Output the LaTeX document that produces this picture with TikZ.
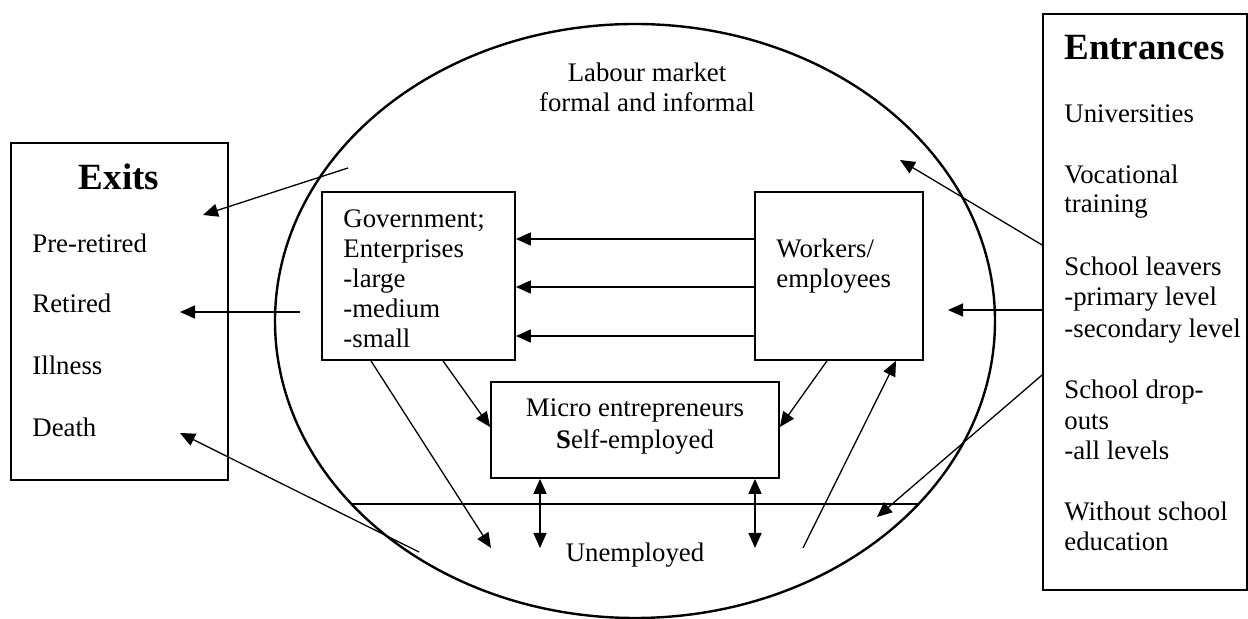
\documentclass[tikz,border=0pt]{standalone}
\usepackage{fontspec}
\setmainfont{Liberation Serif}
\usetikzlibrary{arrows.meta,shapes.geometric,positioning,calc}

\begin{document}
\begin{tikzpicture}
		[x=0.5pt, y=-0.5pt, font=\fontsize{13.4}{15}\selectfont,
		% STYLES
		% The box style is used for the groups of people
		box/.style={rectangle, draw, line width=0.9pt, inner sep=0pt},
		% the big ellipse of the labour market
		marketshape/.style={ellipse, draw, line width=1.2pt, inner sep=0pt, minimum width=360pt, minimum height=297pt},
		% one line of text
		txt/.style={inner sep=0pt, anchor=base west},
		% headings of the side boxes
		heading/.style={inner sep=0pt, anchor=base west, font=\fontsize{18.5}{21}\selectfont\bfseries},
		% flows between the groups
		flow/.style={-{Triangle[length=7.5pt,width=6.5pt]}, line width=0.85pt},
		thinflow/.style={-{Triangle[length=7.5pt,width=6.5pt]}, line width=0.65pt},
		twoway/.style={{Triangle[length=7.5pt,width=6.5pt]}-{Triangle[length=7.5pt,width=6.5pt]}, line width=0.85pt}]

		\useasboundingbox (0,0) rectangle (1248,619);

		% Draw the labour market
		\node [marketshape] (market) at (635,321) {};
		\node [txt, anchor=base] (lab1) at (647,82) {Labour market};
		\node [txt, anchor=base] (lab2) at (647,112) {formal and informal};

		% Draw boxes
		\node [box, minimum width=108.5pt, minimum height=168.5pt] (exits) at (119.5,311.5) {};
		\node [box, minimum width=102pt, minimum height=288pt] (entrances) at (1145,302) {};
		\node [box, minimum width=96.5pt, minimum height=84pt] (gov) at (418.5,276) {};
		\node [box, minimum width=84pt, minimum height=84pt] (workers) at (839,276) {};
		\node [box, minimum width=144pt, minimum height=48pt] (micro) at (635,430) {};

		%%%%%%%%%%%%%%%
		% Texts
		\node [heading, anchor=base] (exits-title) at (119,190) {Exits};
		\foreach \t/\y [count=\i] in {Pre-retired/253, Retired/313, Illness/375, Death/437}
			\node [txt] (exit\i) at (32,\y) {\t};

		\node [heading] (entr-title) at (1064,60) {Entrances};
		\foreach \t/\y [count=\i] in {Universities/123, Vocational/184, training/213,
				School leavers/276, -primary level/306, -secondary level/338,
				School drop-/399, outs/430, -all levels/460,
				Without school/521, education/551}
			\node [txt] (entr\i) at (1064,\y) {\t};

		\foreach \t/\y [count=\i] in {Government;/228, Enterprises/258, -large/288, -medium/318, -small/348}
			\node [txt] (gov\i) at (343,\y) {\t};
		\node [txt] (work1) at (776,258) {Workers/};
		\node [txt] (work2) at (776,288) {employees};
		\node [txt, anchor=base] (micro1) at (635,417) {Micro entrepreneurs};
		\node [txt, anchor=base] (micro2) at (635,449) {\textbf{S}elf-employed};
		\node [txt, anchor=base] (unemp) at (635,562) {Unemployed};

		%%%%%%%%%%%%%%%%
		% Free ends of the links
		\coordinate (exit-from) at (348,168);
		\coordinate (exit-to) at (203,215);
		\coordinate (retired-from) at (300,312);
		\coordinate (retired-to) at (180,312);
		\coordinate (death-from) at (419,552);
		\coordinate (death-to) at (180,433);
		\coordinate (entr-top) at (900,160);
		\coordinate (entr-mid) at (948,310);
		\coordinate (entr-low) at (877,517);
		\coordinate (gov-unemp) at (491,548);
		\coordinate (unemp-work) at (803,548);
		\coordinate (unemp-l) at (540,548);
		\coordinate (unemp-r) at (755,548);
		\coordinate (sep-l) at ($(market.center)+(-283.6,183)$);
		\coordinate (sep-r) at ($(market.center)+(283.6,183)$);

		% Draw the links
		\draw [thinflow] (exit-from) -- (exit-to);
		\draw [flow] (retired-from) -- (retired-to);
		\draw [thinflow] (death-from) -- (death-to);
		\foreach \y in {239,287,336}
			\draw [flow] (workers.west |- 0,\y) -- (gov.east |- 0,\y);
		\draw [thinflow] (gov.south -| 443,0) -- (micro.west |- 0,427);
		\draw [thinflow] (gov.south -| 371,0) -- (gov-unemp);
		\draw [thinflow] (workers.south -| 827,0) -- (micro.east |- 0,427);
		\draw [thinflow] (unemp-work) -- (workers.south -| 896,0);
		\draw [twoway] (micro.south -| unemp-l) -- (unemp-l);
		\draw [twoway] (micro.south -| unemp-r) -- (unemp-r);
		\draw [thinflow] (entrances.west |- 0,245) -- (entr-top);
		\draw [flow] (entrances.west |- 0,310) -- (entr-mid);
		\draw [thinflow] (entrances.west |- 0,375) -- (entr-low);
		% border of the unemployed
		\draw [line width=0.85pt] (sep-l) -- (sep-r);
\end{tikzpicture}
\end{document}
